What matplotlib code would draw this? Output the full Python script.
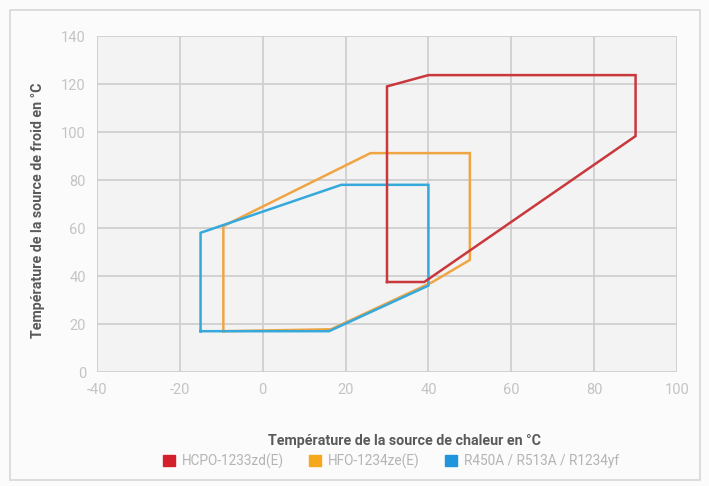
import matplotlib
matplotlib.use("Agg")
import matplotlib.pyplot as plt
from matplotlib.patches import Rectangle

plt.rcParams['font.family'] = ['Roboto', 'DejaVu Sans']
plt.rcParams['axes.unicode_minus'] = False

# Data
series_names = ["HCPO-1233zd(E)", "HFO-1234ze(E)", "R450A / R513A / R1234yf"]
red_x = [30, 30, 40, 90, 90, 39, 30]
red_y = [37.5, 119, 123.7, 123.7, 98.3, 37.5, 37.5]
orange_x = [-9.5, -9.5, 26, 50, 50, 41, 16.5, -9.5]
orange_y = [17, 60.8, 91.2, 91.2, 46.7, 37.5, 17.8, 17]
blue_x = [-15, -15, 19, 40, 40, 16, -15]
blue_y = [17, 58, 78, 78, 36, 17, 17]
x_ticks = [-40, -20, 0, 20, 40, 60, 80, 100]
y_ticks = [0, 20, 40, 60, 80, 100, 120, 140]

line_colors = ["#c8383d", "#f0a544", "#35a9dc"]
legend_colors = ["#d3202a", "#f5a81c", "#1e95dc"]

fig = plt.figure(figsize=(7.09, 4.86), dpi=100, facecolor="#fbfbfb")
# outer frame
fig.patches.append(Rectangle((10/709, 1 - 480/486), 690/709, 470/486,
                             transform=fig.transFigure, fill=False,
                             edgecolor="#d8d8d8", linewidth=1.2))

ax = fig.add_axes([97/709, 1 - 372/486, 580/709, 336/486])
ax.set_facecolor("#f3f3f3")
ax.set_xlim(-40, 100)
ax.set_ylim(0, 140)
ax.set_xticks(x_ticks)
ax.set_yticks(y_ticks)
ax.grid(True, color="#cfcfcf", linewidth=1.3)
ax.set_axisbelow(True)
for s in ax.spines.values():
    s.set_visible(False)
ax.tick_params(length=0, labelsize=10.5, colors="#c4c4c4", pad=8)

for xs, ys, c in [(orange_x, orange_y, line_colors[1]),
                  (blue_x, blue_y, line_colors[2]),
                  (red_x, red_y, line_colors[0])]:
    ax.plot(xs, ys, color=c, linewidth=1.8, solid_joinstyle="miter")

ax.set_xlabel("Température de la source de chaleur en °C", fontsize=10.3,
              fontweight="bold", color="#5a5a5a")
ax.xaxis.set_label_coords(0.53, -0.185)
ax.set_ylabel("Température de la source de froid en °C", fontsize=10.3,
              fontweight="bold", color="#5a5a5a")
ax.yaxis.set_label_coords(-0.09, 0.48)

handles = [Rectangle((0, 0), 1, 1, color=c) for c in legend_colors]
leg = fig.legend(handles, series_names, loc="center", bbox_to_anchor=(391/709, 1 - 461/486),
                 ncol=3, frameon=False, fontsize=9.8, handlelength=0.85, handleheight=0.85,
                 handletextpad=0.5, columnspacing=1.9)
for t in leg.get_texts():
    t.set_color("#b4b4b4")

fig.savefig("out.png", dpi=100, facecolor=fig.get_facecolor())
